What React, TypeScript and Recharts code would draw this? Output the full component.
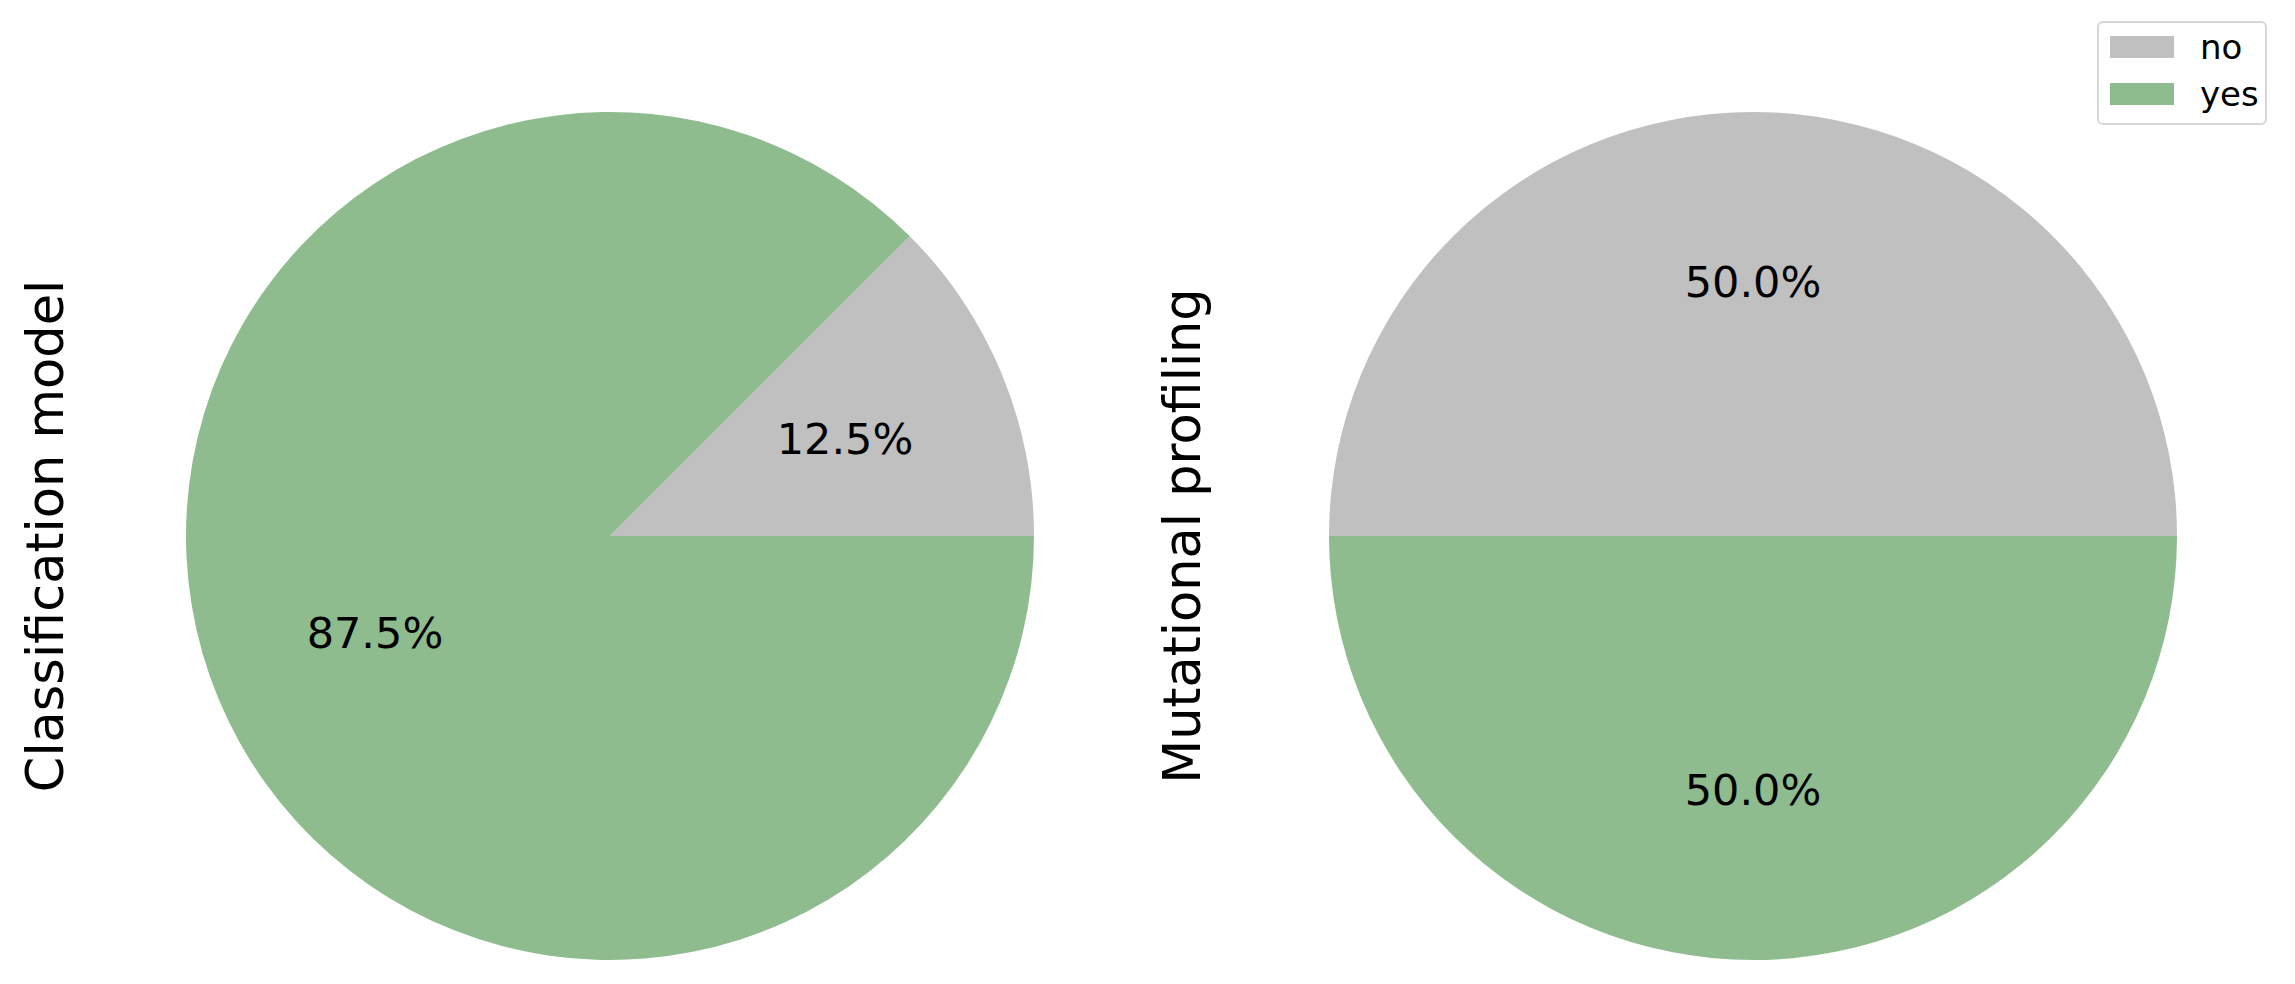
import React from 'react';
import { PieChart, Pie, Cell } from 'recharts';

const categories = ['no', 'yes'];
const classificationValues = [1, 7];
const mutationalValues = [4, 4];
const panelTitles = ['Classification model', 'Mutational profiling'];
const colors = ['#C0C0C0', '#8FBC8F'];

const classificationData = categories.map((c, i) => ({ name: c, value: classificationValues[i] }));
const mutationalData = categories.map((c, i) => ({ name: c, value: mutationalValues[i] }));

const FONT = '"DejaVu Sans", Verdana, sans-serif';
const RAD = Math.PI / 180;

const renderLabel = (props: any) => {
  const { cx, cy, midAngle, outerRadius, percent } = props;
  const r = outerRadius * 0.6;
  const x = cx + r * Math.cos(-midAngle * RAD);
  const y = cy + r * Math.sin(-midAngle * RAD);
  return (
    <text
      x={x}
      y={y}
      textAnchor="middle"
      dominantBaseline="central"
      fill="#000"
      fontSize={43}
      fontFamily={FONT}
    >
      {(percent * 100).toFixed(1) + '%'}
    </text>
  );
};

const LegendBox = () => (
  <div
    style={{
      position: 'absolute',
      left: 2097,
      top: 21,
      width: 170,
      height: 104,
      border: '2px solid #d6d6d6',
      borderRadius: 6,
      background: '#fff',
      boxSizing: 'border-box',
      fontFamily: FONT,
      fontSize: 34,
      color: '#000',
    }}
  >
    {categories.map((c, i) => (
      <div
        key={c}
        style={{ position: 'absolute', left: 11, top: 13 + i * 47, height: 22, display: 'flex', alignItems: 'center' }}
      >
        <div style={{ width: 64, height: 22, background: colors[i] }} />
        <span style={{ marginLeft: 26, lineHeight: '22px', position: 'relative', top: 0 }}>{c}</span>
      </div>
    ))}
  </div>
);

export default function App() {
  return (
    <div style={{ position: 'absolute', left: 0, top: 0, width: 2295, height: 984, background: '#fff' }}>
      <PieChart width={2295} height={984} margin={{ top: 0, right: 0, bottom: 0, left: 0 }}>
        <Pie
          data={classificationData}
          dataKey="value"
          nameKey="name"
          cx={610}
          cy={536}
          outerRadius={424}
          startAngle={0}
          endAngle={360}
          stroke="none"
          label={renderLabel}
          labelLine={false}
          isAnimationActive={false}
        >
          {classificationData.map((d, i) => (
            <Cell key={d.name} fill={colors[i]} />
          ))}
        </Pie>
        <Pie
          data={mutationalData}
          dataKey="value"
          nameKey="name"
          cx={1753}
          cy={536}
          outerRadius={424}
          startAngle={0}
          endAngle={360}
          stroke="none"
          label={renderLabel}
          labelLine={false}
          isAnimationActive={false}
        >
          {mutationalData.map((d, i) => (
            <Cell key={d.name} fill={colors[i]} />
          ))}
        </Pie>
      </PieChart>
      <svg
        width={2295}
        height={984}
        style={{ position: 'absolute', left: 0, top: 0, pointerEvents: 'none' }}
      >
        <text
          transform="translate(63,536) rotate(-90)"
          textAnchor="middle"
          fontSize={51}
          fontFamily={FONT}
          fill="#000"
        >
          {panelTitles[0]}
        </text>
        <text
          transform="translate(1200,536) rotate(-90)"
          textAnchor="middle"
          fontSize={51}
          fontFamily={FONT}
          fill="#000"
        >
          {panelTitles[1]}
        </text>
      </svg>
      <LegendBox />
    </div>
  );
}
